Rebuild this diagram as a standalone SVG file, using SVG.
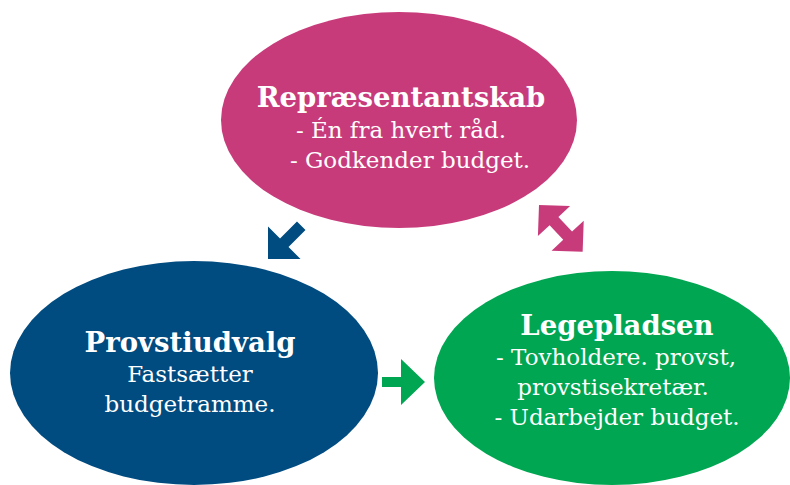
<svg xmlns="http://www.w3.org/2000/svg" width="790" height="485" viewBox="0 0 790 485">
<style>
.t{font-family:"DejaVu Serif","Liberation Serif",serif;fill:#fff;text-anchor:middle;font-size:23px}
.b{font-weight:bold;font-size:27.5px}
</style>
<rect width="790" height="485" fill="#fff"/>
<g id="repraesentantskab">
<ellipse cx="399" cy="120" rx="178" ry="108" fill="#C83B7B"/>
<text class="t b" x="401" y="107">Repræsentantskab</text>
<text class="t" x="401" y="138">- Én fra hvert råd.</text>
<text class="t" x="410" y="168">- Godkender budget.</text>
</g>
<g id="provstiudvalg">
<ellipse cx="194" cy="373" rx="184" ry="112" fill="#004B80"/>
<text class="t b" x="190" y="352">Provstiudvalg</text>
<text class="t" x="190" y="382">Fastsætter</text>
<text class="t" x="190" y="412">budgetramme.</text>
</g>
<g id="legepladsen">
<ellipse cx="612" cy="378" rx="178" ry="107" fill="#00A651"/>
<text class="t b" x="617" y="335">Legepladsen</text>
<text class="t" x="616" y="365">- Tovholdere. provst,</text>
<text class="t" x="613" y="395">provstisekretær.</text>
<text class="t" x="617" y="425">- Udarbejder budget.</text>
</g>
<g id="connectors">
<polygon points="0,0 -23,-23 -23,-6 -47,-6 -47,6 -23,6 -23,23" fill="#004B80" transform="translate(268,259) rotate(135)"/>
<polygon points="425,382 401,359 401,377 382,377 382,387 401,387 401,405" fill="#00A651"/>
<polygon points="0,0 22,-22 22,-6 42,-6 42,-22 64,0 42,22 42,6 22,6 22,22" fill="#C83B7B" transform="translate(539,205) rotate(47)"/>
</g>
</svg>
